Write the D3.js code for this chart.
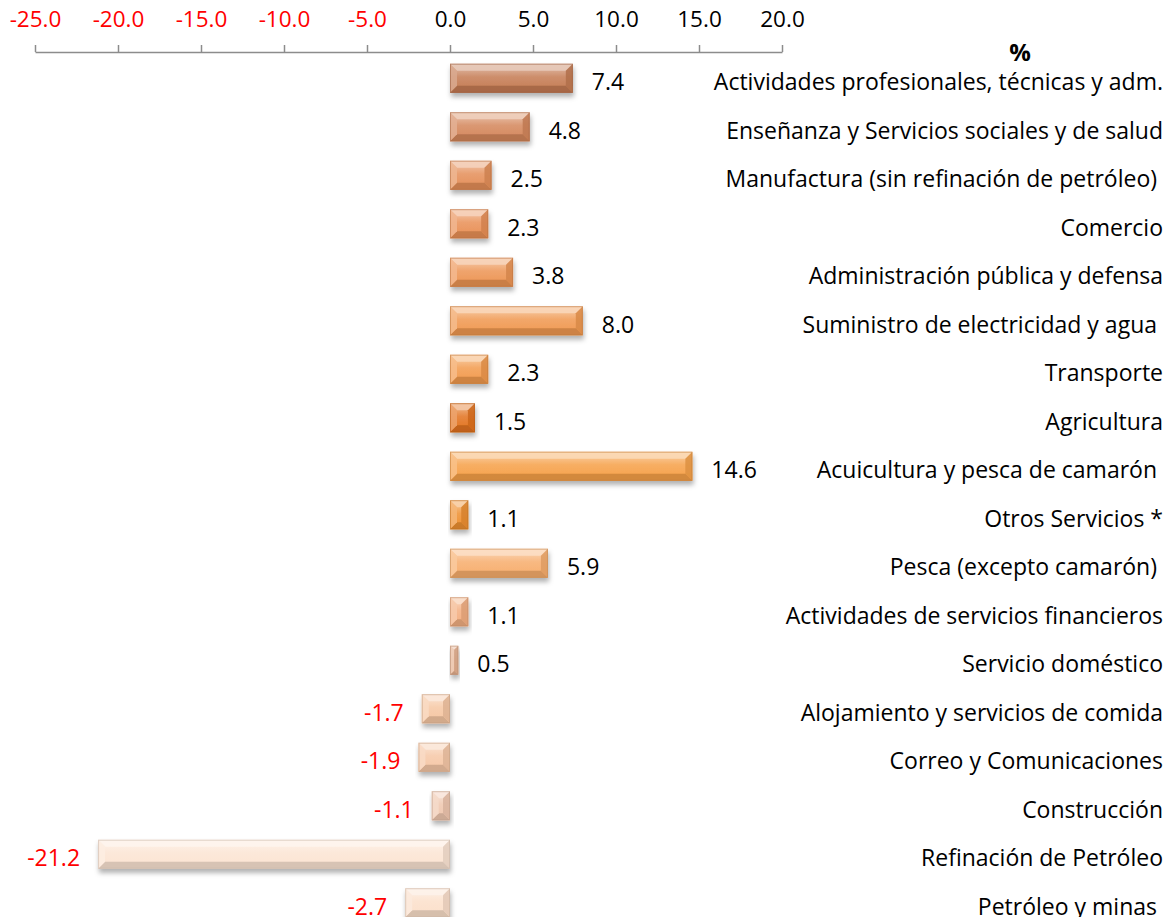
<!DOCTYPE html>
<html>
<head>
<meta charset="utf-8">
<script src="https://cdn.jsdelivr.net/npm/d3@7"></script>
<style>
  body { margin: 0; background: #fff; }
  text { font-family: "Open Sans", "Noto Sans", sans-serif; }
</style>
</head>
<body>
<script>
const w = 1165;
const h = 917;

const categories = [
  "Actividades profesionales, técnicas y adm.",
  "Enseñanza y Servicios sociales y de salud",
  "Manufactura (sin refinación de petróleo) ",
  "Comercio",
  "Administración pública y defensa",
  "Suministro de electricidad y agua ",
  "Transporte",
  "Agricultura",
  "Acuicultura y pesca de camarón ",
  "Otros Servicios *",
  "Pesca (excepto camarón) ",
  "Actividades de servicios financieros",
  "Servicio doméstico",
  "Alojamiento y servicios de comida",
  "Correo y Comunicaciones",
  "Construcción",
  "Refinación de Petróleo",
  "Petróleo y minas "
];
const values = [7.4, 4.8, 2.5, 2.3, 3.8, 8.0, 2.3, 1.5, 14.6, 1.1, 5.9, 1.1, 0.5, -1.7, -1.9, -1.1, -21.2, -2.7];
const barColors = [
  "#c47a52", "#d4865a", "#e48e58", "#e98f55", "#ec9453", "#f09850", "#f29a4c", "#e2721e", "#f6a048",
  "#ee8f30", "#f7ad6c", "#f3ae80", "#e6b190", "#f6c6a2", "#f6c7a6", "#efc6ae", "#fce4d2", "#fbdfca"
];
const tickValues = [-25, -20, -15, -10, -5, 0, 5, 10, 15, 20];

const svg = d3.select("body").append("svg").attr("width", w).attr("height", h);

const defs = svg.append("defs");
defs.append("filter").attr("id", "shadow")
  .attr("x", "-10%").attr("y", "-20%").attr("width", "130%").attr("height", "170%")
  .append("feDropShadow")
  .attr("dx", 1).attr("dy", 4).attr("stdDeviation", 2.5)
  .attr("flood-color", "#000").attr("flood-opacity", 0.3);

barColors.forEach((c, i) => {
  const g = defs.append("linearGradient").attr("id", "grad" + i)
    .attr("x1", 0).attr("y1", 0).attr("x2", 0).attr("y2", 1);
  g.append("stop").attr("offset", "0%").attr("stop-color", d3.interpolateRgb(c, "#fff")(0.55));
  g.append("stop").attr("offset", "45%").attr("stop-color", d3.interpolateRgb(c, "#fff")(0.15));
  g.append("stop").attr("offset", "100%").attr("stop-color", c);
});

const x = d3.scaleLinear().domain([-25, 20]).range([35, 782]);
const y = d3.scaleBand().domain(categories).range([54, 927]).paddingInner(0.4).paddingOuter(0.2);

const fmt = d => d.toFixed(1);

// axis on top
const axis = svg.append("g").attr("transform", "translate(0,52)")
  .call(d3.axisTop(x).tickValues(tickValues).tickSize(7).tickSizeOuter(0).tickPadding(18).tickFormat(fmt));
axis.select(".domain").attr("stroke", "#8c8c8c").attr("stroke-width", 1.5);
axis.selectAll(".tick line").attr("stroke", "#8c8c8c").attr("stroke-width", 1.5);
axis.selectAll(".tick text")
  .attr("font-size", 22.5)
  .attr("font-family", "Open Sans, Noto Sans, sans-serif")
  .attr("fill", d => d < 0 ? "#ff0000" : "#000");

svg.append("text").text("%")
  .attr("x", 1020).attr("y", 61).attr("text-anchor", "middle")
  .attr("font-size", 24).attr("font-weight", "bold").attr("fill", "#000");

// bars with bevel
const bars = svg.selectAll("g.bar").data(values).enter().append("g")
  .attr("class", "bar")
  .attr("filter", "url(#shadow)");

bars.each(function (d, i) {
  const g = d3.select(this);
  const x0 = Math.min(x(0), x(d));
  const x1 = Math.max(x(0), x(d));
  const y0 = y(categories[i]);
  const y1 = y0 + y.bandwidth();
  const b = Math.min(7, (x1 - x0) / 2);
  const c = barColors[i];
  g.append("rect").attr("x", x0).attr("y", y0).attr("width", x1 - x0).attr("height", y1 - y0)
    .attr("fill", "url(#grad" + i + ")");
  const poly = (pts, fill, op) => g.append("polygon")
    .attr("points", pts.map(p => p.join(",")).join(" "))
    .attr("fill", fill).attr("opacity", op);
  poly([[x0, y0], [x1, y0], [x1 - b, y0 + b], [x0 + b, y0 + b]], d3.interpolateRgb(c, "#fff")(0.6), 0.9);
  poly([[x0, y1], [x1, y1], [x1 - b, y1 - b], [x0 + b, y1 - b]], d3.color(c).darker(0.5), 0.9);
  poly([[x0, y0], [x0 + b, y0 + b], [x0 + b, y1 - b], [x0, y1]], d3.interpolateRgb(c, "#fff")(0.35), 0.85);
  poly([[x1, y0], [x1 - b, y0 + b], [x1 - b, y1 - b], [x1, y1]], d3.color(c).darker(0.3), 0.85);
  g.append("rect").attr("x", x0 + 0.5).attr("y", y0 + 0.5).attr("width", x1 - x0 - 1).attr("height", y1 - y0 - 1)
    .attr("fill", "none").attr("stroke", d3.color(c).darker(0.6)).attr("stroke-width", 1).attr("opacity", 0.6);
});

// value labels
svg.selectAll("text.val").data(values).enter().append("text")
  .attr("class", "val")
  .text(fmt)
  .attr("x", d => d < 0 ? x(d) - 18 : x(d) + 19)
  .attr("y", (d, i) => y(categories[i]) + y.bandwidth() / 2 + 12)
  .attr("text-anchor", d => d < 0 ? "end" : "start")
  .attr("font-size", 23)
  .attr("fill", d => d < 0 ? "#ff0000" : "#000");

// category labels
svg.selectAll("text.cat").data(categories).enter().append("text")
  .attr("class", "cat")
  .text(d => d)
  .style("white-space", "pre")
  .attr("x", 1163)
  .attr("y", d => y(d) + y.bandwidth() / 2 + 12)
  .attr("text-anchor", "end")
  .attr("font-size", 23)
  .attr("fill", "#000");
</script>
</body>
</html>
